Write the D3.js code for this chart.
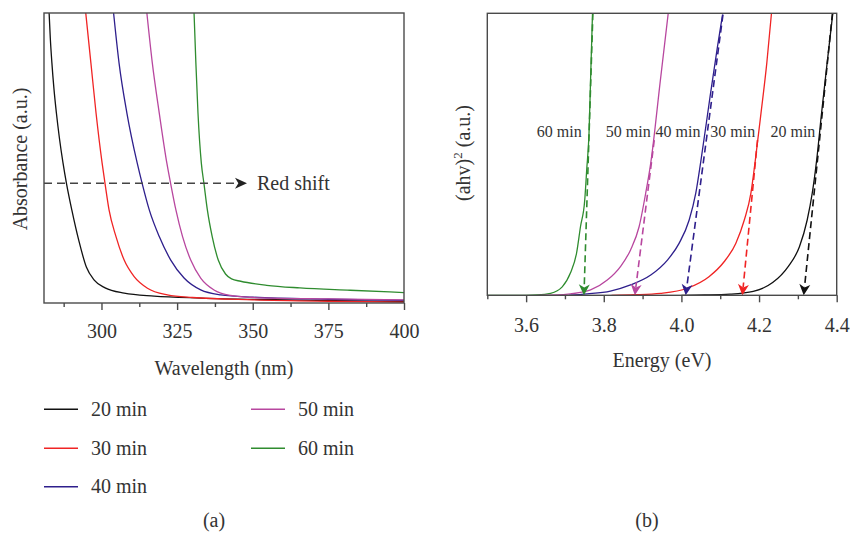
<!DOCTYPE html>
<html>
<head>
<meta charset="utf-8">
<script src="https://cdn.jsdelivr.net/npm/d3@7/dist/d3.min.js"></script>
<style>
  body { margin: 0; background: #fff; }
  svg { display: block; }
  text { font-family: "Liberation Serif", "Times New Roman", serif; fill: #333; }
</style>
</head>
<body>
<svg id="chart" width="850" height="533"></svg>
<script>
// ---- series ----
const seriesNames  = ["20 min", "30 min", "40 min", "50 min", "60 min"];
const seriesColors = ["#111111", "#f02424", "#2e1f8c", "#b8479f", "#2f8c2f"];

// (a) absorbance spectra: wavelength (nm) / absorbance (a.u.)
const wl20  = [282.69, 283.08, 283.61, 284.27, 285.10, 286.09, 287.28, 288.47, 290.19, 292.54, 295.0, 297.6, 301.2, 307.5, 317.4, 332.6, 365.6, 400];
const abs20 = [1.0, 0.914, 0.828, 0.741, 0.655, 0.569, 0.483, 0.41, 0.321, 0.214, 0.124, 0.079, 0.052, 0.034, 0.024, 0.017, 0.010, 0.005];
const wl30  = [294.8, 296.5, 298.2, 300.2, 301.2, 302.5, 304.8, 307.5, 310.8, 315.2, 321.8, 330, 350, 375, 400];
const abs30 = [1.0, 0.828, 0.655, 0.483, 0.41, 0.321, 0.229, 0.148, 0.091, 0.051, 0.028, 0.019, 0.011, 0.006, 0.003];
const wl40  = [304.0, 305.8, 308.4, 311.8, 313.5, 315.8, 319.1, 322.9, 327.3, 332.8, 339.4, 350, 375, 400];
const abs40 = [1.0, 0.828, 0.655, 0.483, 0.41, 0.321, 0.229, 0.148, 0.086, 0.045, 0.028, 0.020, 0.013, 0.009];
const wl50  = [315.0, 316.8, 319.1, 321.6, 322.9, 324.6, 326.8, 329.5, 332.8, 337.2, 342.7, 350, 375, 400];
const abs50 = [1.0, 0.828, 0.655, 0.483, 0.41, 0.321, 0.229, 0.148, 0.086, 0.045, 0.026, 0.019, 0.014, 0.011];
const wl60  = [330.6, 331.2, 331.9, 333.0, 333.9, 335.0, 336.6, 338.6, 341.0, 343.0, 346.0, 354.6, 365.6, 382.2, 400];
const abs60 = [1.0, 0.828, 0.655, 0.483, 0.41, 0.321, 0.229, 0.148, 0.100, 0.083, 0.075, 0.061, 0.052, 0.044, 0.036];

// (b) Tauc plots: photon energy (eV) / (αhν)² (a.u.)
const en20  = [4.0, 4.06, 4.125, 4.185, 4.235, 4.275, 4.304, 4.324, 4.337, 4.348, 4.361, 4.375, 4.390];
const tauc20 = [0, 0.001, 0.004, 0.014, 0.045, 0.102, 0.172, 0.267, 0.362, 0.475, 0.646, 0.82, 1.0];
const en30  = [3.82, 3.88, 3.946, 4.015, 4.071, 4.110, 4.140, 4.162, 4.179, 4.190, 4.205, 4.220, 4.232];
const tauc30 = [0, 0.002, 0.007, 0.025, 0.066, 0.119, 0.184, 0.267, 0.362, 0.475, 0.646, 0.824, 1.0];
const en40  = [3.71, 3.757, 3.817, 3.869, 3.921, 3.964, 3.994, 4.020, 4.037, 4.050, 4.074, 4.093, 4.106];
const tauc40 = [0, 0.005, 0.015, 0.037, 0.072, 0.125, 0.184, 0.267, 0.362, 0.475, 0.706, 0.883, 0.995];
const en50  = [3.63, 3.68, 3.714, 3.766, 3.809, 3.843, 3.869, 3.891, 3.908, 3.921, 3.946, 3.966];
const tauc50 = [0, 0.001, 0.005, 0.019, 0.054, 0.102, 0.161, 0.243, 0.362, 0.469, 0.765, 1.0];
const en60  = [3.5, 3.6, 3.629, 3.663, 3.693, 3.714, 3.730, 3.740, 3.751, 3.756, 3.762, 3.766, 3.771];
const tauc60 = [0, 0, 0.001, 0.007, 0.030, 0.079, 0.150, 0.243, 0.338, 0.444, 0.575, 0.763, 1.0];

// linear extrapolations to the energy axis (band gap)
const gapTopEnergy = [4.389, 4.196, 4.107, 3.930, 3.772];
const gapTopValue  = [1.0, 0.55, 0.995, 0.55, 1.0];
const gapEnergy    = [4.315, 4.157, 4.011, 3.880, 3.749];

// ---- axes ----
const wlTicks = [300, 325, 350, 375, 400];
const wlMinor = [287.5, 312.5, 337.5, 362.5, 387.5];
const enTicks = [3.6, 3.8, 4.0, 4.2, 4.4];
const enMinor = [3.5, 3.7, 3.9, 4.1, 4.3];

// red-shift annotation (wavelength start/end, absorbance level)
const shiftArrow = { from: 281, to: 348.1, level: 0.413, label: "Red shift" };

const wlData  = [wl20, wl30, wl40, wl50, wl60];
const absData = [abs20, abs30, abs40, abs50, abs60];
const enData  = [en20, en30, en40, en50, en60];
const taucData = [tauc20, tauc30, tauc40, tauc50, tauc60];
const taucLabelEnergy = [4.345, 4.190, 4.049, 3.921, 3.743];

const svg = d3.select("#chart");
const frameColor = "#4a4a4a";

// scales
const xA = d3.scaleLinear().domain([281, 400]).range([44, 404]);
const yA = d3.scaleLinear().domain([0, 1]).range([303, 13]);
const xB = d3.scaleLinear().domain([3.5, 4.4]).range([487.3, 836.7]);
const yB = d3.scaleLinear().domain([0, 1]).range([295.3, 13.3]);

const defs = svg.append("defs");
defs.append("clipPath").attr("id", "clipA").append("rect")
  .attr("x", 44).attr("y", 13).attr("width", 360).attr("height", 290);
defs.append("clipPath").attr("id", "clipB").append("rect")
  .attr("x", 487.3).attr("y", 13.3).attr("width", 349.4).attr("height", 282);

function arrowHead(g, tipX, tipY, angle, color, len, half) {
  g.append("path")
    .attr("d", `M0,0 L${-len},${-half} L${-len * 0.72},0 L${-len},${half} Z`)
    .attr("transform", `translate(${tipX},${tipY}) rotate(${angle})`)
    .attr("fill", color);
}

function bottomAxis(x, y0, major, minor, fmt, labelY) {
  const g = svg.append("g").attr("transform", `translate(0,${y0})`);
  g.call(d3.axisBottom(x).tickValues(major).tickSize(7).tickFormat(fmt));
  g.select(".domain").remove();
  g.selectAll(".tick line").attr("stroke", frameColor).attr("stroke-width", 1.4);
  g.selectAll(".tick text")
    .attr("y", labelY).attr("dy", null)
    .style("font-size", "20px").style("font-family", '"Liberation Serif", serif').attr("fill", "#333");
  const gm = svg.append("g").attr("transform", `translate(0,${y0})`);
  gm.call(d3.axisBottom(x).tickValues(minor).tickSize(4).tickFormat(""));
  gm.select(".domain").remove();
  gm.selectAll(".tick line").attr("stroke", frameColor).attr("stroke-width", 1.4);
}

// ---------- panel (a) ----------
const line = d3.line().curve(d3.curveMonotoneX);
const gA = svg.append("g").attr("clip-path", "url(#clipA)");
wlData.forEach((wl, i) => {
  const pts = wl.map((w, k) => [xA(w), yA(absData[i][k])]);
  gA.append("path").attr("d", line(pts)).attr("fill", "none")
    .attr("stroke", seriesColors[i]).attr("stroke-width", 1.3);
});

// red shift arrow
const sy = yA(shiftArrow.level);
svg.append("line")
  .attr("x1", xA(shiftArrow.from)).attr("x2", xA(shiftArrow.to) - 9)
  .attr("y1", sy).attr("y2", sy)
  .attr("stroke", "#444").attr("stroke-width", 1.6).attr("stroke-dasharray", "8,5");
arrowHead(svg, xA(shiftArrow.to), sy, 0, "#222", 12, 5.5);
svg.append("text").attr("x", xA(shiftArrow.to) + 10).attr("y", sy + 6.5)
  .style("font-size", "20px").text(shiftArrow.label);

svg.append("rect").attr("x", 44).attr("y", 13).attr("width", 360).attr("height", 290)
  .attr("fill", "none").attr("stroke", frameColor).attr("stroke-width", 1.4);
bottomAxis(xA, 303, wlTicks, wlMinor, d3.format("d"), 35);

svg.append("text").attr("x", 224).attr("y", 375).attr("text-anchor", "middle")
  .style("font-size", "20px").text("Wavelength (nm)");
svg.append("text").attr("transform", "translate(27,159) rotate(-90)").attr("text-anchor", "middle")
  .style("font-size", "20px").text("Absorbance (a.u.)");

// ---------- panel (b) ----------
const gB = svg.append("g").attr("clip-path", "url(#clipB)");
// drawn from longest (60 min) to shortest exposure so the baseline order is kept
[4, 3, 2, 1, 0].forEach(i => {
  const pts = enData[i].map((e, k) => [xB(e), yB(taucData[i][k])]);
  gB.append("path").attr("d", line(pts)).attr("fill", "none")
    .attr("stroke", seriesColors[i]).attr("stroke-width", 1.3);
});

// extrapolation lines with arrows
[0, 1, 2, 3, 4].forEach(i => {
  const x1 = xB(gapTopEnergy[i]), y1 = yB(gapTopValue[i]);
  const x2 = xB(gapEnergy[i]), y2 = yB(0);
  const ang = Math.atan2(y2 - y1, x2 - x1);
  const L = 11;
  svg.append("line")
    .attr("x1", x1).attr("y1", y1)
    .attr("x2", x2 - Math.cos(ang) * (L - 3)).attr("y2", y2 - Math.sin(ang) * (L - 3))
    .attr("stroke", seriesColors[i]).attr("stroke-width", 1.6).attr("stroke-dasharray", "7,4");
  arrowHead(svg, x2, y2, ang * 180 / Math.PI, seriesColors[i], L, 5.5);
});

// curve labels
seriesNames.forEach((n, i) => {
  svg.append("text").attr("x", xB(taucLabelEnergy[i])).attr("y", yB(0.561))
    .attr("text-anchor", "end").style("font-size", "16px").text(n);
});

svg.append("rect").attr("x", 487.3).attr("y", 13.3).attr("width", 349.4).attr("height", 282)
  .attr("fill", "none").attr("stroke", frameColor).attr("stroke-width", 1.4);
bottomAxis(xB, 295.3, enTicks, enMinor, d3.format(".1f"), 36.5);

svg.append("text").attr("x", 662).attr("y", 367).attr("text-anchor", "middle")
  .style("font-size", "20px").text("Energy (eV)");
const yl = svg.append("text").attr("transform", "translate(470,153) rotate(-90)")
  .attr("text-anchor", "middle").style("font-size", "20px");
yl.append("tspan").text("(ahv)");
yl.append("tspan").attr("dy", -8).style("font-size", "13px").text("2");
yl.append("tspan").attr("dy", 8).text(" (a.u.)");

// ---------- legend ----------
const legendPos = [[44, 409.3], [44, 448.3], [44, 486.7], [251, 409.3], [251, 448.3]];
seriesNames.forEach((n, i) => {
  const [lx, ly] = legendPos[i];
  svg.append("line").attr("x1", lx).attr("x2", lx + 34).attr("y1", ly).attr("y2", ly)
    .attr("stroke", seriesColors[i]).attr("stroke-width", 1.5);
  svg.append("text").attr("x", lx + 47).attr("y", ly + 6.5)
    .style("font-size", "20px").text(n);
});

svg.append("text").attr("x", 214).attr("y", 527).attr("text-anchor", "middle")
  .style("font-size", "20px").text("(a)");
svg.append("text").attr("x", 647).attr("y", 527).attr("text-anchor", "middle")
  .style("font-size", "20px").text("(b)");
</script>
</body>
</html>
